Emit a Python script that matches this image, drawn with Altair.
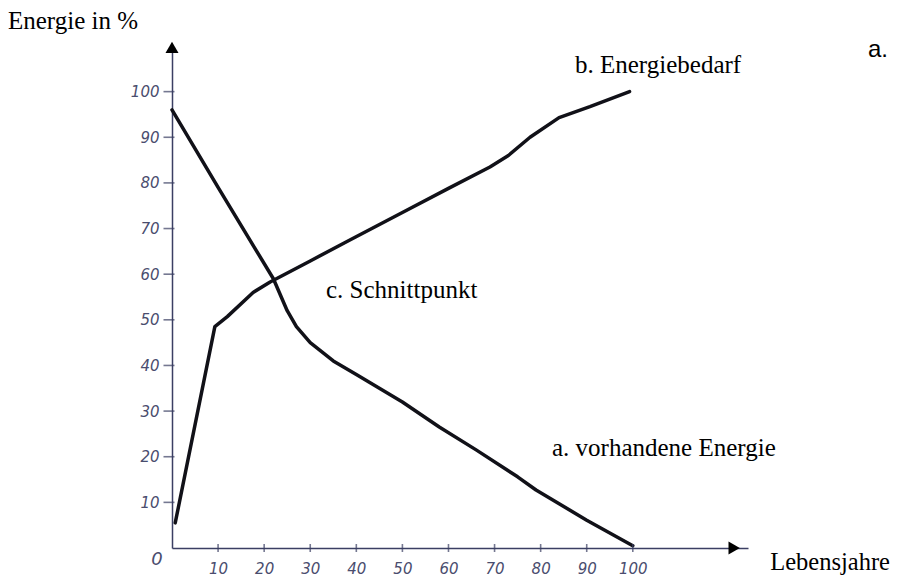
import altair as alt
import pandas as pd

# ---- data ----
age_a = [0, 10, 22, 25, 27, 30, 35, 40, 50, 58, 66, 75, 79, 90, 100]
energy_a = [96, 79, 59, 52, 48.5, 45, 41, 38, 32, 26.5, 21.5, 15.6, 12.7, 6.1, 0.5]
age_b = [0.7, 9.3, 12, 17.6, 21.3, 30, 38.6, 50, 60, 69, 73, 77.7, 84, 90.7, 99.3]
energy_b = [5.5, 48.5, 50.7, 56, 58.3, 62.9, 67.5, 73.5, 78.8, 83.5, 86, 90, 94.3, 96.7, 100]
tick_values = [10, 20, 30, 40, 50, 60, 70, 80, 90, 100]
labels = {
    "ytitle": "Energie in %",
    "xtitle": "Lebensjahre",
    "b": "b.  Energiebedarf",
    "a": "a. vorhandene Energie",
    "c": "c. Schnittpunkt",
    "corner": "a.",
    "origin": "0",
}

X_MAX = 125
Y_MAX = 110
W = 576
H = 502
PAD_R = 143
AX = "#3b3f63"
LAB = "#4a4d6e"
LINE = "#111118"
SERIF = "Liberation Serif"

df_lines = pd.concat([
    pd.DataFrame({"age": age_a, "energy": energy_a, "series": "a"}),
    pd.DataFrame({"age": age_b, "energy": energy_b, "series": "b"}),
])

xscale = alt.Scale(domain=[0, X_MAX], nice=False, zero=True)
yscale = alt.Scale(domain=[0, Y_MAX], nice=False, zero=True)


def make_axis():
    return alt.Axis(
        values=tick_values, ticks=False, grid=False, title=None,
        domainColor=AX, domainWidth=1.5, labelFont="DejaVu Sans",
        labelFontStyle="italic", labelFontSize=15, labelColor=LAB,
        labelPadding=13, labelFlush=False)


def X(field):
    return alt.X(field, scale=xscale, axis=make_axis())


def Y(field):
    return alt.Y(field, scale=yscale, axis=make_axis())


lines = alt.Chart(df_lines).mark_line(
    strokeWidth=3.5, interpolate="linear", color=LINE, strokeCap="round", strokeJoin="round"
).encode(
    x=X("age:Q"),
    y=Y("energy:Q"),
    detail="series:N",
)

df_xt = pd.DataFrame({"v": tick_values, "z": [0] * len(tick_values)})
xticks = alt.Chart(df_xt).mark_tick(orient="vertical", size=8, thickness=1.6, color=AX).encode(
    x=X("v:Q"), y=Y("z:Q"),
)
yticks = alt.Chart(df_xt).mark_tick(orient="horizontal", size=11, thickness=1.6, color=AX, xOffset=-3).encode(
    x=X("z:Q"), y=Y("v:Q"),
)

df_arrow = pd.DataFrame({"x": [0, X_MAX - 3], "y": [Y_MAX - 0.3, 0], "shape": ["triangle-up", "triangle-right"]})
arrows = alt.Chart(df_arrow).mark_point(filled=True, size=170, color="#000000", opacity=1).encode(
    x=X("x:Q"), y=Y("y:Q"),
    shape=alt.Shape("shape:N", scale=None, legend=None),
)


def text_layer(key, px, py, font=SERIF, size=25, style="normal", align="left", baseline="alphabetic", color="#000000"):
    return alt.Chart(pd.DataFrame({"t": [labels[key]]})).mark_text(
        font=font, fontSize=size, fontStyle=style, align=align, baseline=baseline, color=color
    ).encode(text="t:N", x=alt.value(px), y=alt.value(py))


texts = [
    text_layer("ytitle", -164, -17),
    text_layer("b", 403, 27),
    text_layer("corner", 696, 11, font="Liberation Sans", size=24),
    text_layer("c", 154, 252),
    text_layer("a", 380, 410),
    text_layer("xtitle", W + PAD_R - 1, 524, size=24.5, align="right"),
    text_layer("origin", -15, 514, font="DejaVu Sans", size=18, style="italic",
               align="center", baseline="middle", color=LAB),
]

chart = alt.layer(lines, xticks, yticks, arrows, *texts).properties(
    width=W, height=H,
    padding={"left": 164, "top": 38, "right": PAD_R, "bottom": 28},
    autosize=alt.AutoSizeParams(type="none"),
    background="white",
).configure_view(stroke=None)

chart.save("out.html", embed_options={"renderer": "svg", "actions": False})
